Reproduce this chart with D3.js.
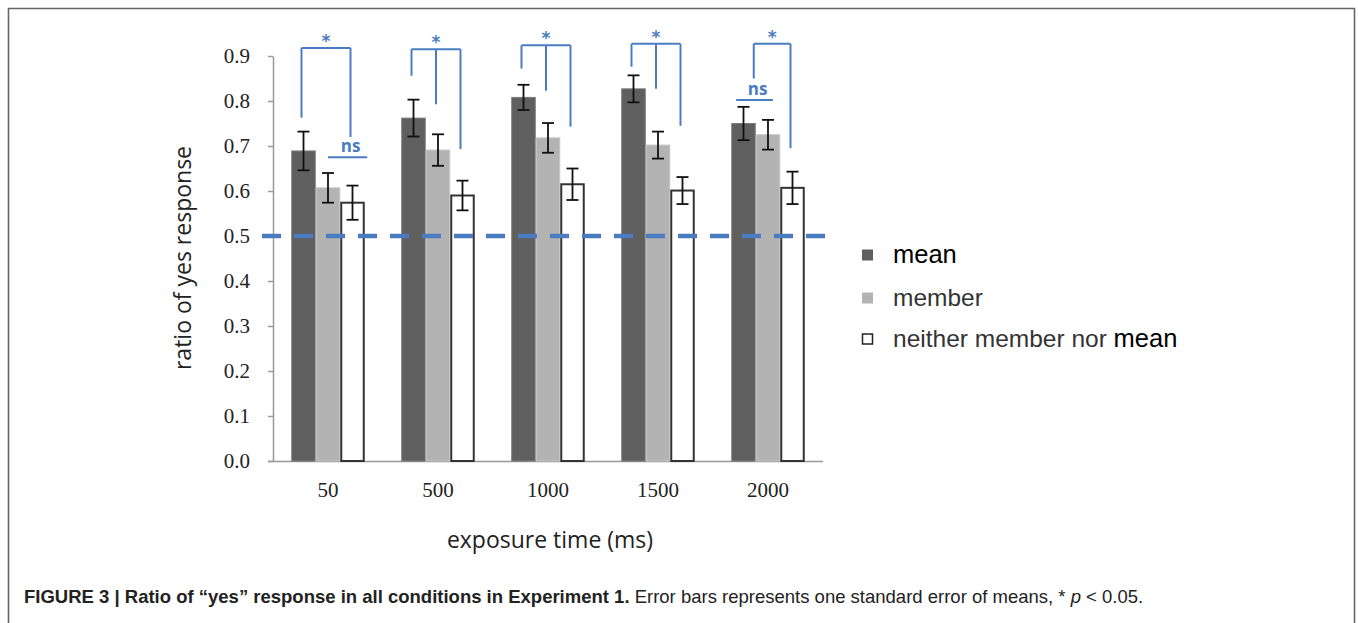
<!DOCTYPE html>
<html>
<head>
<meta charset="utf-8">
<script src="https://cdn.jsdelivr.net/npm/d3@7"></script>
<style>
  html, body { margin: 0; padding: 0; background: #fff; }
  svg { display: block; }
</style>
</head>
<body>
<svg id="chart" width="1358" height="623"></svg>
<script>
// Exposure-time conditions (ms)
const categories = ["50", "500", "1000", "1500", "2000"];
const seriesNames = ["mean", "member", "neither member nor mean"];

// Ratio of "yes" responses per condition
const meanValues    = [0.689, 0.762, 0.808, 0.827, 0.750];
const memberValues  = [0.607, 0.691, 0.718, 0.702, 0.725];
const neitherValues = [0.574, 0.590, 0.615, 0.601, 0.607];

// Standard errors of the means
const meanSE    = [0.043, 0.041, 0.028, 0.030, 0.037];
const memberSE  = [0.033, 0.035, 0.033, 0.030, 0.033];
const neitherSE = [0.038, 0.033, 0.035, 0.030, 0.036];

const yTicks = [0, 0.1, 0.2, 0.3, 0.4, 0.5, 0.6, 0.7, 0.8, 0.9];
const chanceLevel = 0.5;

// Significance brackets: legs reference series index and the value where the leg stops
const brackets = [
  { cat: "50",   top: 0.918, legs: [{ s: 0, end: 0.763 }, { s: 2, end: 0.720 }] },
  { cat: "500",  top: 0.915, legs: [{ s: 0, end: 0.856 }, { s: 1, end: 0.793 }, { s: 2, end: 0.693 }] },
  { cat: "1000", top: 0.924, legs: [{ s: 0, end: 0.872 }, { s: 1, end: 0.823 }, { s: 2, end: 0.743 }] },
  { cat: "1500", top: 0.927, legs: [{ s: 0, end: 0.876 }, { s: 1, end: 0.827 }, { s: 2, end: 0.745 }] },
  { cat: "2000", top: 0.927, legs: [{ s: 0.5, end: 0.850 }, { s: 2, end: 0.695 }] }
];
// Non-significant comparisons: line spanning two series at a value
const nsMarks = [
  { cat: "50",   from: 1.5, to: 3.1, level: 0.675 },
  { cat: "2000", from: 0.2, to: 1.7, level: 0.802 }
];

const series = [
  { name: seriesNames[0], values: meanValues,    se: meanSE,    fill: "#5f5f5f", stroke: "#7a7a7a", sw: 1 },
  { name: seriesNames[1], values: memberValues,  se: memberSE,  fill: "#b3b3b3", stroke: "#c4c4c4", sw: 1 },
  { name: seriesNames[2], values: neitherValues, se: neitherSE, fill: "#ffffff", stroke: "#333333", sw: 2 }
];

const svg = d3.select("#chart");
const blue = "#4a7cc2";

// Figure frame (open at the bottom)
svg.append("path")
  .attr("d", "M8.5,623 L8.5,8.5 L1354.5,8.5 L1354.5,623")
  .attr("fill", "none").attr("stroke", "#666").attr("stroke-width", 1.6);

const x0 = d3.scaleBand().domain(categories).range([273, 823]).paddingInner(0).paddingOuter(0);
const groupW = 73.5;
const x1 = d3.scaleBand().domain(d3.range(series.length)).range([0, groupW]).padding(0);
const y = d3.scaleLinear().domain([0, 0.9]).range([461, 56]);

const groupLeft = c => x0(c) + (x0.bandwidth() - groupW) / 2;
const seriesCenter = (c, s) => groupLeft(c) + s * x1.bandwidth() + x1.bandwidth() / 2;

// Y axis
const yAxis = svg.append("g").attr("transform", "translate(273,0)")
  .call(d3.axisLeft(y).tickValues(yTicks).tickFormat(d3.format(".1f")).tickSize(5).tickSizeOuter(0));
yAxis.select(".domain").attr("stroke", "#999").attr("stroke-width", 1.5);
yAxis.selectAll(".tick line").attr("stroke", "#999").attr("stroke-width", 1.5);
yAxis.selectAll(".tick text")
  .attr("x", -23)
  .attr("font-family", "'Liberation Serif', 'Times New Roman', serif")
  .attr("font-size", 21).attr("fill", "#222");

// X axis
const xAxis = svg.append("g").attr("transform", "translate(0,461)")
  .call(d3.axisBottom(x0).tickSize(0).tickSizeOuter(0));
xAxis.select(".domain").attr("stroke", "#999").attr("stroke-width", 1.5)
  .attr("d", "M268,0.5H823");
xAxis.selectAll(".tick text")
  .attr("y", 21)
  .attr("font-family", "'Liberation Serif', 'Times New Roman', serif")
  .attr("font-size", 21).attr("fill", "#222");

// Bars
const groups = svg.append("g").selectAll("g").data(categories).join("g")
  .attr("transform", c => `translate(${groupLeft(c)},0)`);

series.forEach((s, si) => {
  groups.append("rect")
    .attr("x", x1(si) + (s.sw > 1 ? 1 : 0.5))
    .attr("width", x1.bandwidth() - (s.sw > 1 ? 2 : 1))
    .attr("y", (c, i) => y(s.values[i]))
    .attr("height", (c, i) => y(0) - y(s.values[i]))
    .attr("fill", s.fill).attr("stroke", s.stroke).attr("stroke-width", s.sw);
});

// Error bars
series.forEach((s, si) => {
  const cx = (c) => x1(si) + x1.bandwidth() / 2;
  const eb = groups.append("g").attr("stroke", "#111").attr("stroke-width", 1.8);
  eb.append("line").attr("x1", cx).attr("x2", cx)
    .attr("y1", (c, i) => y(s.values[i] + s.se[i]))
    .attr("y2", (c, i) => y(s.values[i] - s.se[i]));
  [1, -1].forEach(sign => {
    eb.append("line")
      .attr("x1", c => cx(c) - 6).attr("x2", c => cx(c) + 6)
      .attr("y1", (c, i) => y(s.values[i] + sign * s.se[i]))
      .attr("y2", (c, i) => y(s.values[i] + sign * s.se[i]));
  });
});

// Chance level
svg.append("line")
  .attr("x1", 262).attr("x2", 830)
  .attr("y1", y(chanceLevel)).attr("y2", y(chanceLevel))
  .attr("stroke", blue).attr("stroke-width", 4.5)
  .attr("stroke-dasharray", "19,13");

// Significance brackets
const bg = svg.append("g").attr("fill", "none").attr("stroke", blue).attr("stroke-width", 2);
brackets.forEach(b => {
  const xs = b.legs.map(l => seriesCenter(b.cat, l.s) - 2);
  const xl = d3.min(xs), xr = d3.max(xs);
  bg.append("line").attr("x1", xl).attr("x2", xr).attr("y1", y(b.top)).attr("y2", y(b.top));
  b.legs.forEach((l, i) => {
    bg.append("line").attr("x1", xs[i]).attr("x2", xs[i])
      .attr("y1", y(b.top)).attr("y2", y(l.end));
  });
  svg.append("text")
    .attr("x", (xl + xr) / 2).attr("y", y(b.top) - 1)
    .attr("text-anchor", "middle")
    .attr("font-family", "'DejaVu Sans', sans-serif").attr("font-weight", "bold")
    .attr("font-size", 17).attr("fill", blue)
    .text("*");
});

nsMarks.forEach(n => {
  const gl = groupLeft(n.cat);
  const xa = gl + n.from * x1.bandwidth(), xb = gl + n.to * x1.bandwidth();
  bg.append("line").attr("x1", xa).attr("x2", xb).attr("y1", y(n.level)).attr("y2", y(n.level));
  svg.append("text")
    .attr("x", (xa + xb) / 2 + 3).attr("y", y(n.level) - 5)
    .attr("text-anchor", "middle")
    .attr("font-family", "'Open Sans', sans-serif").attr("font-weight", "bold")
    .attr("font-size", 17).attr("fill", blue)
    .text("ns");
});

// Axis titles
svg.append("text")
  .attr("transform", "translate(191,258) rotate(-90)")
  .attr("text-anchor", "middle")
  .attr("font-family", "'Open Sans', sans-serif").attr("font-size", 23).attr("fill", "#222")
  .text("ratio of yes response");

svg.append("text")
  .attr("x", 550).attr("y", 548)
  .attr("text-anchor", "middle")
  .attr("font-family", "'Open Sans', sans-serif").attr("font-size", 23).attr("fill", "#222")
  .text("exposure time (ms)");

// Legend
const legendY = [255, 298, 339];
const legend = svg.append("g").selectAll("g").data(series).join("g")
  .attr("transform", (d, i) => `translate(862,${legendY[i]})`);
legend.append("rect")
  .attr("x", (d, i) => i === 2 ? 0.5 : 0).attr("y", (d, i) => i === 2 ? -5 : -5.5)
  .attr("width", (d, i) => i === 2 ? 10 : 11).attr("height", (d, i) => i === 2 ? 10 : 11)
  .attr("fill", d => d.fill)
  .attr("stroke", (d, i) => i === 2 ? "#222" : "none").attr("stroke-width", 1.5);
legend.append("text")
  .attr("x", 31).attr("y", 8)
  .attr("font-family", "'Liberation Sans', Arial, sans-serif")
  .attr("fill", "#111")
  .each(function(d, i) {
    const t = d3.select(this);
    if (i === 2) {
      t.append("tspan").attr("font-size", 24.5).attr("fill", "#333").text("neither member nor ");
      t.append("tspan").attr("font-size", 25.5).attr("fill", "#000").text("mean");
    } else {
      t.attr("font-size", i === 0 ? 25.5 : 24.5).attr("fill", i === 0 ? "#000" : "#333").text(d.name);
    }
  });

// Caption
const cap = svg.append("text")
  .attr("x", 24).attr("y", 603)
  .attr("font-family", "'Liberation Sans Narrow', 'Liberation Sans', Arial, sans-serif")
  .attr("font-size", 18.5).attr("fill", "#222");
cap.append("tspan").attr("font-weight", "bold").text("FIGURE 3 | Ratio of \u201cyes\u201d response in all conditions in Experiment 1.");
cap.append("tspan").text(" Error bars represents one standard error of means, * ");
cap.append("tspan").attr("font-style", "italic").text("p");
cap.append("tspan").text(" < 0.05.");
</script>
</body>
</html>
